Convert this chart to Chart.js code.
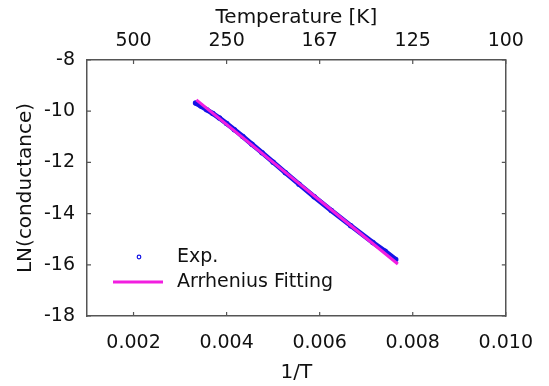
<!DOCTYPE html>
<html>
<head>
<meta charset="utf-8">
<script src="https://cdn.jsdelivr.net/npm/chart.js@4"></script>
<style>
  html, body { margin: 0; padding: 0; background: #fff; }
  #wrap { width: 549px; height: 386px; }
</style>
</head>
<body>
<div id="wrap"><canvas id="arr"></canvas></div>
<script>
// measured ln(conductance) against inverse temperature
const expInvT = [0.003333, 0.003448, 0.003571, 0.003704, 0.003846, 0.004, 0.004167, 0.004348, 0.004545, 0.004762,
                 0.005, 0.005263, 0.005556, 0.005882, 0.00625, 0.006667, 0.007143, 0.007407, 0.007634];
const expLn = [-9.68, -9.80, -9.94, -10.09, -10.27, -10.48, -10.72, -10.99, -11.29, -11.62,
               -11.99, -12.40, -12.85, -13.34, -13.88, -14.47, -15.13, -15.47, -15.79];

// Arrhenius fit line
const fitInvT = [0.00335, 0.0045, 0.0055, 0.0065, 0.00768];
const fitLn = [-9.56, -11.26, -12.74, -14.22, -15.97];

const xTicks = [0.002, 0.004, 0.006, 0.008, 0.010];
const yTicks = [-18, -16, -14, -12, -10, -8];

const blue = '#1414e6';
const pink = '#f21ee0';
const axisCol = '#555555';
const fontFam = '"DejaVu Sans", sans-serif';

const pts = (xs, ys) => xs.map((x, i) => ({x: x, y: ys[i]}));
const keepTicks = list => scale => { scale.ticks = list.map(v => ({value: v})); };

// small inward tick marks on all four sides
const innerTicks = {
  id: 'innerTicks',
  afterDraw(chart) {
    const {ctx, chartArea: a, scales} = chart;
    const len = 4;
    ctx.save();
    ctx.strokeStyle = axisCol;
    ctx.lineWidth = 1.2;
    ctx.beginPath();
    xTicks.forEach(v => {
      const px = scales.x.getPixelForValue(v);
      ctx.moveTo(px, a.bottom); ctx.lineTo(px, a.bottom - len);
      ctx.moveTo(px, a.top); ctx.lineTo(px, a.top + len);
    });
    yTicks.forEach(v => {
      const py = scales.y.getPixelForValue(v);
      ctx.moveTo(a.left, py); ctx.lineTo(a.left + len, py);
      ctx.moveTo(a.right, py); ctx.lineTo(a.right - len, py);
    });
    ctx.stroke();
    ctx.restore();
  }
};

// legend box sitting inside the plot, lower left
const innerLegend = {
  id: 'innerLegend',
  afterDraw(chart) {
    const {ctx, chartArea: a} = chart;
    ctx.save();
    ctx.font = '19px ' + fontFam;
    ctx.fillStyle = '#111';
    ctx.textBaseline = 'middle';
    ctx.strokeStyle = blue;
    ctx.lineWidth = 1.2;
    ctx.beginPath();
    ctx.arc(a.left + 52, a.top + 197, 1.8, 0, Math.PI * 2);
    ctx.stroke();
    ctx.fillText('Exp.', a.left + 90, a.top + 197);
    ctx.strokeStyle = pink;
    ctx.lineWidth = 3;
    ctx.beginPath();
    ctx.moveTo(a.left + 26, a.top + 222);
    ctx.lineTo(a.left + 76, a.top + 222);
    ctx.stroke();
    ctx.fillText('Arrhenius Fitting', a.left + 90, a.top + 222);
    ctx.restore();
  }
};

const tickFont = {family: fontFam, size: 19};
const titleFont = {family: fontFam, size: 20};
const border = {display: true, color: axisCol, width: 1.5};

new Chart(document.getElementById('arr'), {
  type: 'scatter',
  data: {
    datasets: [
      {
        label: 'Exp.',
        data: pts(expInvT, expLn),
        showLine: true,
        borderColor: blue,
        borderWidth: 5,
        pointRadius: 2,
        pointBorderWidth: 1.5,
        pointBackgroundColor: blue,
        pointBorderColor: blue,
        order: 2
      },
      {
        label: 'Arrhenius Fitting',
        data: pts(fitInvT, fitLn),
        showLine: true,
        borderColor: pink,
        borderWidth: 3,
        pointRadius: 0,
        order: 1
      }
    ]
  },
  options: {
    responsive: true,
    maintainAspectRatio: false,
    animation: false,
    layout: {padding: 0},
    plugins: {legend: {display: false}, tooltip: {enabled: false}},
    scales: {
      x: {
        type: 'linear', position: 'bottom', min: 0.001, max: 0.010,
        grid: {display: false, drawTicks: false}, border: border,
        afterBuildTicks: keepTicks(xTicks),
        afterFit: s => { s.height = 70; },
        ticks: {font: tickFont, color: '#111', padding: 16, maxRotation: 0,
                callback: v => v.toFixed(3)},
        title: {display: true, text: '1/T', font: titleFont, color: '#111', padding: {top: 0, bottom: 1}}
      },
      x2: {
        type: 'linear', position: 'top', min: 0.001, max: 0.010,
        grid: {display: false, drawTicks: false}, border: border,
        afterBuildTicks: keepTicks(xTicks),
        afterFit: s => { s.height = 60; },
        ticks: {font: tickFont, color: '#111', padding: 8, maxRotation: 0,
                callback: v => String(Math.round(1 / v))},
        title: {display: true, text: 'Temperature [K]', font: titleFont, color: '#111', padding: {top: 6, bottom: 0}}
      },
      y: {
        type: 'linear', position: 'left', min: -18, max: -8,
        grid: {display: false, drawTicks: false}, border: border,
        afterBuildTicks: keepTicks(yTicks),
        afterFit: s => { s.width = 87; },
        ticks: {font: tickFont, color: '#111', padding: 12},
        title: {display: true, text: 'LN(conductance)', font: titleFont, color: '#111', padding: {top: 14, bottom: 0}}
      },
      y2: {
        type: 'linear', position: 'right', min: -18, max: -8,
        grid: {display: false, drawTicks: false}, border: border,
        afterFit: s => { s.width = 40; },
        ticks: {display: false}
      }
    }
  },
  plugins: [innerTicks, innerLegend]
});
</script>
</body>
</html>
